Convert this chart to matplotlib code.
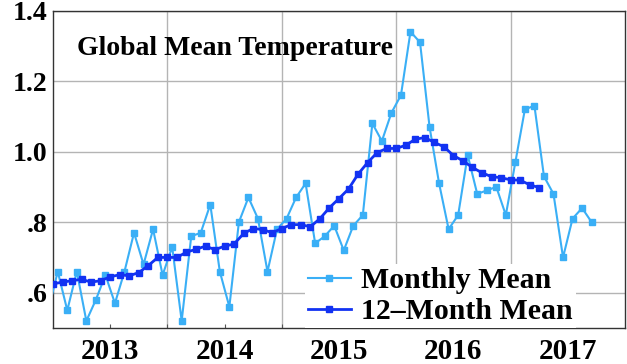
import numpy as np
import matplotlib.pyplot as plt

# monthly global temperature anomaly, Dec 2012 .. Sep 2017
monthly = [0.55,
           0.66, 0.55, 0.66, 0.52, 0.58, 0.65, 0.57, 0.66, 0.77, 0.68, 0.78, 0.65,
           0.73, 0.52, 0.76, 0.77, 0.85, 0.66, 0.56, 0.80, 0.87, 0.81, 0.66, 0.78,
           0.81, 0.87, 0.91, 0.74, 0.76, 0.79, 0.72, 0.79, 0.82, 1.08, 1.03, 1.11,
           1.16, 1.34, 1.31, 1.07, 0.91, 0.78, 0.82, 0.99, 0.88, 0.89, 0.90, 0.82,
           0.97, 1.12, 1.13, 0.93, 0.88, 0.70, 0.81, 0.84, 0.80]

# 12-month running mean, centred, starting Jan 2013
running = [0.625, 0.630, 0.634, 0.638, 0.630, 0.634, 0.645, 0.651, 0.648, 0.657,
           0.677, 0.700, 0.700, 0.700, 0.715, 0.723, 0.732, 0.722, 0.732, 0.738,
           0.768, 0.782, 0.779, 0.770, 0.782, 0.793, 0.793, 0.787, 0.810, 0.841,
           0.867, 0.894, 0.936, 0.969, 0.997, 1.009, 1.009, 1.018, 1.035, 1.040,
           1.026, 1.014, 0.989, 0.974, 0.955, 0.940, 0.929, 0.926, 0.920, 0.919,
           0.906, 0.898]

years = [2013, 2014, 2015, 2016, 2017]
yticks = [0.6, 0.8, 1.0, 1.2, 1.4]
ylabels = [".6", ".8", "1.0", "1.2", "1.4"]

t_monthly = 2012 + (11 + 0.5) / 12 + np.arange(len(monthly)) / 12
t_running = 2013 + np.arange(len(running)) / 12

plt.rcParams["font.family"] = ["Liberation Serif", "DejaVu Serif"]
plt.rcParams["font.weight"] = "bold"

fig = plt.figure(figsize=(6.27, 3.64), dpi=100)
ax = fig.add_axes([0.0845, 0.099, 0.9123, 0.872])

ax.plot(t_monthly, monthly, color="#3aaff6", lw=1.5, marker="s", ms=4.4,
        label="Monthly Mean", zorder=3)
ax.plot(t_running, running, color="#1232f2", lw=2.0, marker="s", ms=4.7,
        label="12\u2013Month Mean", zorder=4)

ax.set_xlim(2013.0, 2018.0)
ax.set_ylim(0.5, 1.4)

ax.set_xticks([y + 0.5 for y in years])
ax.set_xticklabels([str(y) for y in years])
ax.set_xticks([2014, 2015, 2016, 2017], minor=True)
ax.set_yticks(yticks)
ax.set_yticklabels(ylabels)

ax.grid(True, which="minor", axis="x", color="#b4b4b4", lw=1.0)
ax.grid(True, which="major", axis="y", color="#b4b4b4", lw=1.0)
ax.set_axisbelow(True)

ax.tick_params(axis="x", which="both", direction="in", length=3, width=0.8,
               color="#555555", labelsize=21, pad=7)
ax.tick_params(axis="y", length=0, labelsize=20, pad=4)
for lab in ax.get_xticklabels() + ax.get_yticklabels():
    lab.set_fontweight("bold")

for s in ax.spines.values():
    s.set_color("#333333")
    s.set_linewidth(1.0)

ax.text(0.042, 0.88, "Global Mean Temperature", transform=ax.transAxes,
        fontsize=20, fontweight="bold", va="center", ha="left")

leg = ax.legend(loc="lower left", bbox_to_anchor=(0.44, 0.0),
                fontsize=21.5, frameon=True, framealpha=1, edgecolor="none",
                handlelength=1.45, handletextpad=0.35, labelspacing=0.12,
                borderpad=0.1, borderaxespad=0, fancybox=False)
for txt in leg.get_texts():
    txt.set_fontweight("bold")

fig.savefig("out.png", dpi=100)
